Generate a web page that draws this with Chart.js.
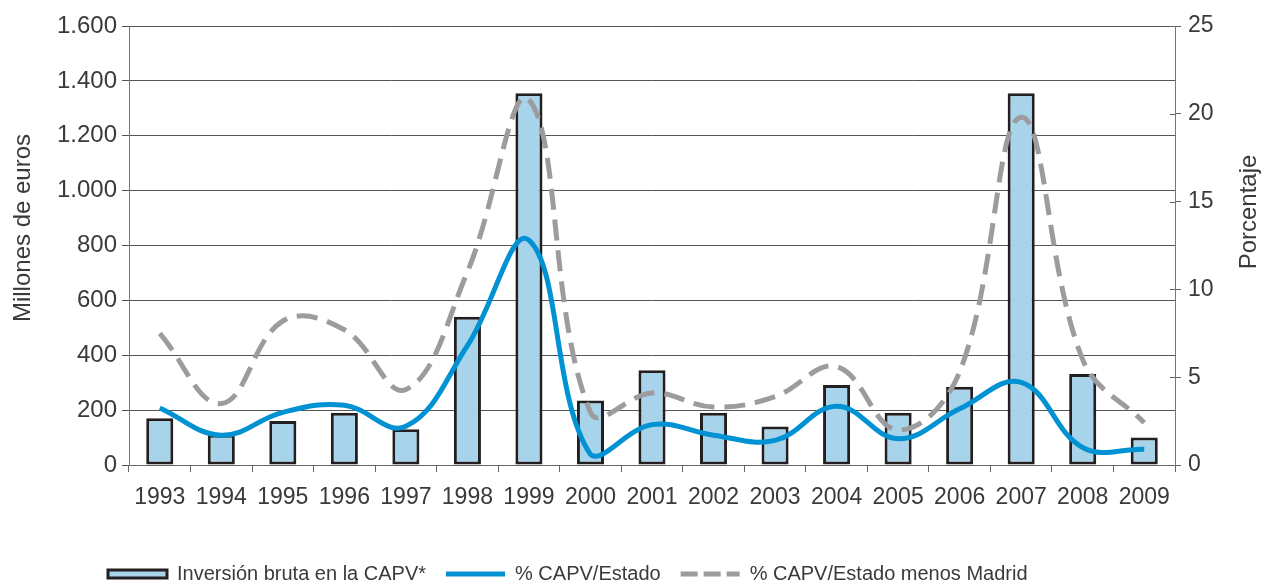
<!DOCTYPE html>
<html lang="es">
<head>
<meta charset="utf-8">
<title>Inversión bruta en la CAPV</title>
<script src="https://cdn.jsdelivr.net/npm/chart.js@4/dist/chart.umd.min.js"></script>
<style>
    html, body { margin: 0; padding: 0; background: #fff; }
    #wrap { width: 1265px; height: 583px; position: relative; }
</style>
</head>
<body>
<div id="wrap"><canvas id="inversionChart" width="1265" height="583"></canvas></div>
<script>
const years = ['1993', '1994', '1995', '1996', '1997', '1998', '1999', '2000', '2001',
    '2002', '2003', '2004', '2005', '2006', '2007', '2008', '2009'];

// Millones de euros
const inversionBruta = [170, 110, 160, 190, 130, 540, 1355, 235, 345, 190, 140, 292, 190, 285, 1355, 332, 100];

// Porcentaje
const pctEstado = [3.25, 1.7, 3.0, 3.4, 2.2, 6.8, 12.8, 0.6, 2.3, 1.7, 1.4, 3.35, 1.5, 3.2, 4.7, 1.0, 0.9];
const pctEstadoSinMadrid = [7.5, 3.5, 8.2, 7.7, 4.3, 11.0, 20.8, 3.0, 4.1, 3.3, 3.9, 5.6, 2.0, 5.3, 19.8, 6.0, 2.4];

const leftTicks = [0, 200, 400, 600, 800, 1000, 1200, 1400, 1600];
const rightTicks = [0, 5, 10, 15, 20, 25];

const leftTitle = 'Millones de euros';
const rightTitle = 'Porcentaje';

const FONT = "'Liberation Sans', Arial, sans-serif";
const TEXT = '#3a3a3a';

function miles(v) {
    return String(v).replace(/\B(?=(\d{3})+(?!\d))/g, '.');
}

// moves the legend row to where it sits under the plot
const legendPlace = {
    id: 'legendPlace',
    afterLayout(chart) {
        const lg = chart.legend;
        lg.left = 88;
        lg.top += 11;
    }
};

// both axis titles read bottom-to-top; also the short inner ticks of the right axis
const axisExtras = {
    id: 'axisExtras',
    afterDraw(chart) {
        const ctx = chart.ctx;
        const area = chart.chartArea;
        const y1 = chart.scales.y1;

        ctx.save();
        ctx.strokeStyle = '#666';
        ctx.lineWidth = 1;
        rightTicks.forEach(v => {
            const py = Math.round(y1.getPixelForValue(v)) + 0.5;
            ctx.beginPath();
            ctx.moveTo(area.right - 5, py);
            ctx.lineTo(area.right, py);
            ctx.stroke();
        });

        ctx.fillStyle = TEXT;
        ctx.font = `24px ${FONT}`;
        ctx.textAlign = 'center';
        ctx.textBaseline = 'middle';

        ctx.translate(23, 228);
        ctx.rotate(-Math.PI / 2);
        ctx.fillText(leftTitle, 0, 0);
        ctx.restore();

        ctx.save();
        ctx.fillStyle = TEXT;
        ctx.font = `24px ${FONT}`;
        ctx.textAlign = 'center';
        ctx.textBaseline = 'middle';
        ctx.translate(chart.width - 16, 212);
        ctx.rotate(-Math.PI / 2);
        ctx.fillText(rightTitle, 0, 0);
        ctx.restore();
    }
};

new Chart(document.getElementById('inversionChart'), {
    type: 'bar',
    data: {
        labels: years,
        datasets: [
            {
                type: 'bar',
                label: 'Inversión bruta en la CAPV*',
                data: inversionBruta,
                yAxisID: 'y',
                backgroundColor: '#a7d3eb',
                borderColor: '#231f20',
                borderWidth: 3,
                borderSkipped: false,
                categoryPercentage: 1,
                barPercentage: 0.44,
                order: 2
            },
            {
                type: 'line',
                label: '% CAPV/Estado',
                data: pctEstado,
                yAxisID: 'y1',
                borderColor: '#0092d2',
                borderWidth: 5,
                tension: 0.4,
                pointRadius: 0,
                fill: false,
                order: 0
            },
            {
                type: 'line',
                label: '% CAPV/Estado menos Madrid',
                data: pctEstadoSinMadrid,
                yAxisID: 'y1',
                borderColor: '#9c9c9e',
                borderWidth: 5,
                borderDash: [21, 10],
                tension: 0.4,
                pointRadius: 0,
                fill: false,
                order: 1
            }
        ]
    },
    options: {
        responsive: false,
        animation: false,
        layout: { padding: { top: 26, bottom: 0, left: 0, right: 0 } },
        plugins: {
            tooltip: { enabled: false },
            legend: {
                position: 'bottom',
                align: 'start',
                labels: {
                    usePointStyle: true,
                    pointStyleWidth: 59,
                    boxHeight: 8,
                    padding: 20,
                    color: TEXT,
                    font: { family: FONT, size: 20 },
                    generateLabels(chart) {
                        return chart.data.datasets.map((ds, i) => {
                            const isBar = ds.type === 'bar';
                            return {
                                text: ds.label,
                                datasetIndex: i,
                                fillStyle: isBar ? ds.backgroundColor : 'transparent',
                                strokeStyle: ds.borderColor,
                                lineWidth: isBar ? 3 : 5,
                                lineDash: ds.borderDash ? [17, 6] : [],
                                pointStyle: isBar ? 'rect' : 'line',
                                fontColor: TEXT,
                                hidden: false
                            };
                        });
                    }
                }
            }
        },
        scales: {
            x: {
                grid: {
                    drawOnChartArea: false,
                    drawTicks: true,
                    tickLength: 7,
                    color: '#666'
                },
                border: { display: true, color: '#666', width: 1 },
                ticks: {
                    color: TEXT,
                    font: { family: FONT, size: 23 },
                    maxRotation: 0,
                    autoSkip: false,
                    padding: 12
                },
                afterFit(scale) { scale.height = 68; }
            },
            y: {
                position: 'left',
                min: 0,
                max: 1600,
                afterBuildTicks(scale) { scale.ticks = leftTicks.map(v => ({ value: v })); },
                grid: {
                    color: '#555',
                    lineWidth: 1,
                    tickLength: 7
                },
                border: { display: true, color: '#777', width: 1 },
                ticks: {
                    color: TEXT,
                    font: { family: FONT, size: 24 },
                    padding: 5,
                    callback: v => miles(v)
                },
                afterFit(scale) { scale.width = 129; }
            },
            y1: {
                position: 'right',
                min: 0,
                max: 25,
                afterBuildTicks(scale) { scale.ticks = rightTicks.map(v => ({ value: v })); },
                grid: {
                    drawOnChartArea: false,
                    color: '#666',
                    tickLength: 6
                },
                border: { display: true, color: '#777', width: 1 },
                ticks: {
                    color: TEXT,
                    font: { family: FONT, size: 23 },
                    padding: 7
                },
                afterFit(scale) { scale.width = 90; }
            }
        }
    },
    plugins: [legendPlace, axisExtras]
});
</script>
</body>
</html>
